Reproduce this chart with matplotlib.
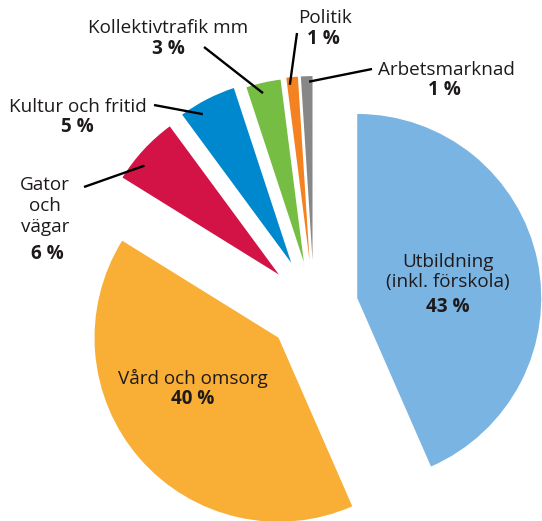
import numpy as np
import matplotlib
matplotlib.use("Agg")
import matplotlib.pyplot as plt

# ---- data ----
categories = ["Utbildning\n(inkl. förskola)", "Vård och omsorg", "Gator\noch\nvägar",
              "Kultur och fritid", "Kollektivtrafik mm", "Politik", "Arbetsmarknad"]
values = [43, 40, 6, 5, 3, 1, 1]
colors = ["#7AB4E3", "#F9AE35", "#D31245", "#0088CE", "#76BD43", "#F58220", "#878787"]

# ---- style / layout ----
explode = [0.24, 0.255, 0.26, 0.27, 0.25, 0.255, 0.255]
W, H = 542, 521
CX, CY, RPX = 314, 307, 184          # pie centre / radius in pixels (top-left origin)

plt.rcParams['font.family'] = ['Open Sans', 'DejaVu Sans']
TXT = "#1E1A1B"
FS = 13.6

fig = plt.figure(figsize=(W / 100, H / 100), dpi=100)
ax = fig.add_axes([0, 0, 1, 1])
wedges, _ = ax.pie(values, explode=explode, colors=colors, startangle=90,
                   counterclock=False, radius=1, wedgeprops=dict(linewidth=0))
ax.set_xlim(-CX / RPX, (W - CX) / RPX)
ax.set_ylim(-(H - CY) / RPX, CY / RPX)
ax.set_aspect('auto')
ax.axis('off')


def px(x, y):
    return (x - CX) / RPX, (CY - y) / RPX


# label layout: (name centre px), (pct centre px)
name_pos = [(448, 272), (193, 378), (45, 206), (78, 107), (168, 28), (325, 18), (446, 70)]
pct_pos = [(448, 307), (193, 399), (47, 254), (77, 127), (168, 49), (323, 39), (444, 90)]
# leader lines: text-side start (px), and wedge point (angle fraction, radius fraction)
leader_start = [None, None, (84, 187), (154, 105), (204, 47), (297, 33), (372, 69)]
leader_end = [None, None, (0.67, 0.94), (0.69, 0.94), (0.58, 0.945), (0.76, 0.96), (0.3, 0.97)]

for i, (name, v) in enumerate(zip(categories, values)):
    nx, ny = px(*name_pos[i])
    ax.text(nx, ny, name, ha='center', va='center', fontsize=FS, color=TXT,
            linespacing=1.2)
    qx, qy = px(*pct_pos[i])
    ax.text(qx, qy, f"{v} %", ha='center', va='center', fontsize=FS, color=TXT,
            fontweight='bold')
    if leader_start[i] is not None:
        w = wedges[i]
        fa, fr = leader_end[i]
        ang = np.deg2rad(w.theta1 + fa * (w.theta2 - w.theta1))
        ex = w.center[0] + fr * w.r * np.cos(ang)
        ey = w.center[1] + fr * w.r * np.sin(ang)
        sx, sy = px(*leader_start[i])
        ax.plot([sx, ex], [sy, ey], color='black', lw=1.7, solid_capstyle='butt')

fig.savefig("out.png", dpi=100)
